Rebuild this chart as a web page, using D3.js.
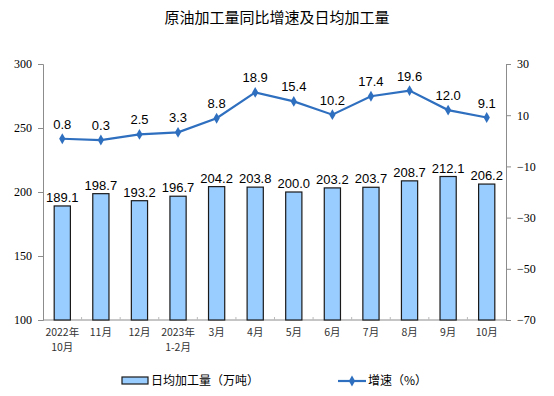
<!DOCTYPE html>
<html>
<head>
<meta charset="utf-8">
<script src="https://cdn.jsdelivr.net/npm/d3@7"></script>
<style>
  body { margin: 0; background: #fff; }
  svg { display: block; }
</style>
</head>
<body>
<svg id="chart" width="554" height="396"></svg>
<script>
const categories = ['2022年\n10月', '11月', '12月', '2023年\n1-2月', '3月', '4月', '5月', '6月', '7月', '8月', '9月', '10月'];
const dailyOutput = [189.1, 198.7, 193.2, 196.7, 204.2, 203.8, 200.0, 203.2, 203.7, 208.7, 212.1, 206.2];
const growth = [0.8, 0.3, 2.5, 3.3, 8.8, 18.9, 15.4, 10.2, 17.4, 19.6, 12.0, 9.1];
const leftTicks = [100, 150, 200, 250, 300];
const rightTicks = [-70, -50, -30, -10, 10, 30];

const svg = d3.select('#chart');
const margin = { top: 64, right: 48, bottom: 76, left: 43 };
const width = 554 - margin.left - margin.right;
const height = 396 - margin.top - margin.bottom;
const axisColor = '#8c8c8c';
const lineColor = '#2f6fbf';

// title
svg.append('text')
  .attr('x', 277).attr('y', 23)
  .attr('text-anchor', 'middle')
  .style('font-family', '"Noto Sans CJK SC", sans-serif')
  .style('font-size', '15px')
  .style('fill', '#000')
  .text('原油加工量同比增速及日均加工量');

const g = svg.append('g').attr('transform', `translate(${margin.left},${margin.top})`);

const x = d3.scaleBand().domain(categories).range([0, width]).paddingInner(0.58).paddingOuter(0.29);
const yL = d3.scaleLinear().domain([100, 300]).range([height, 0]);
const yR = d3.scaleLinear().domain([-70, 30]).range([height, 0]);

// left axis
const leftAxis = g.append('g')
  .call(d3.axisLeft(yL).tickValues(leftTicks).tickSize(5).tickPadding(6));
leftAxis.select('.domain').attr('stroke', axisColor);
leftAxis.selectAll('line').attr('stroke', axisColor);
leftAxis.selectAll('text')
  .style('font-family', '"Liberation Serif", serif')
  .style('font-size', '12px')
  .style('fill', '#000');

// right axis
const rightAxis = g.append('g')
  .attr('transform', `translate(${width},0)`)
  .call(d3.axisRight(yR).tickValues(rightTicks).tickSize(5).tickPadding(6));
rightAxis.select('.domain').attr('stroke', axisColor);
rightAxis.selectAll('line').attr('stroke', axisColor);
rightAxis.selectAll('text')
  .style('font-family', '"Liberation Serif", serif')
  .style('font-size', '12px')
  .style('fill', '#000');

// bottom axis line + minor ticks between categories
g.append('line')
  .attr('x1', 0).attr('x2', width)
  .attr('y1', height).attr('y2', height)
  .attr('stroke', axisColor);
const step = x.step();
g.selectAll('.xtick')
  .data(categories.slice(1))
  .enter().append('line')
  .attr('x1', (d, i) => x(d) - x.paddingInner() * step / 2)
  .attr('x2', (d, i) => x(d) - x.paddingInner() * step / 2)
  .attr('y1', height).attr('y2', height - 3)
  .attr('stroke', '#bbb');

// x labels
const xl = g.selectAll('.xlabel')
  .data(categories)
  .enter().append('text')
  .attr('text-anchor', 'middle')
  .attr('transform', d => `translate(${x(d) + x.bandwidth() / 2},${height + 16})`)
  .style('font-family', '"Noto Sans CJK SC", sans-serif')
  .style('font-size', '10.5px')
  .style('fill', '#333');
xl.each(function(d) {
  const parts = d.split('\n');
  d3.select(this).selectAll('tspan')
    .data(parts).enter().append('tspan')
    .attr('x', 0)
    .attr('dy', (p, i) => i === 0 ? 0 : 15)
    .text(p => p);
});

// bars
g.selectAll('.bar')
  .data(dailyOutput)
  .enter().append('rect')
  .attr('x', (d, i) => x(categories[i]))
  .attr('width', x.bandwidth())
  .attr('y', d => yL(d))
  .attr('height', d => height - yL(d))
  .attr('fill', '#99ccff')
  .attr('stroke', '#1a1a1a')
  .attr('stroke-width', 1.2);

g.selectAll('.bar-label')
  .data(dailyOutput)
  .enter().append('text')
  .attr('x', (d, i) => x(categories[i]) + x.bandwidth() / 2)
  .attr('y', d => yL(d) - 4)
  .attr('text-anchor', 'middle')
  .style('font-family', '"Liberation Sans", Arial, sans-serif')
  .style('font-size', '13px')
  .style('fill', '#000')
  .text(d => d.toFixed(1));

// line
const line = d3.line()
  .x((d, i) => x(categories[i]) + x.bandwidth() / 2)
  .y(d => yR(d));
g.append('path')
  .datum(growth)
  .attr('d', line)
  .attr('fill', 'none')
  .attr('stroke', lineColor)
  .attr('stroke-width', 2.2);

const diamond = d3.symbol().type(d3.symbolDiamond).size(34);
g.selectAll('.pt')
  .data(growth)
  .enter().append('path')
  .attr('d', diamond)
  .attr('transform', (d, i) => `translate(${x(categories[i]) + x.bandwidth() / 2},${yR(d)})`)
  .attr('fill', lineColor);

g.selectAll('.pt-label')
  .data(growth)
  .enter().append('text')
  .attr('x', (d, i) => x(categories[i]) + x.bandwidth() / 2)
  .attr('y', d => yR(d) - 10)
  .attr('text-anchor', 'middle')
  .style('font-family', '"Liberation Sans", Arial, sans-serif')
  .style('font-size', '13px')
  .style('fill', '#000')
  .text(d => d.toFixed(1));

// legend
const legend = svg.append('g').attr('transform', 'translate(0,381)');
legend.append('rect')
  .attr('x', 122).attr('y', -4).attr('width', 26).attr('height', 7)
  .attr('fill', '#99ccff').attr('stroke', '#1a1a1a').attr('stroke-width', 1.2);
legend.append('text')
  .attr('x', 151).attr('y', 4)
  .style('font-family', '"Noto Sans CJK SC", sans-serif')
  .style('font-size', '12px')
  .style('fill', '#000')
  .text('日均加工量（万吨）');
legend.append('line')
  .attr('x1', 338).attr('x2', 366).attr('y1', 0).attr('y2', 0)
  .attr('stroke', lineColor).attr('stroke-width', 2.2);
legend.append('path')
  .attr('d', diamond)
  .attr('transform', 'translate(352,0)')
  .attr('fill', lineColor);
legend.append('text')
  .attr('x', 368).attr('y', 4)
  .style('font-family', '"Noto Sans CJK SC", sans-serif')
  .style('font-size', '12px')
  .style('fill', '#000')
  .text('增速（%）');
</script>
</body>
</html>
